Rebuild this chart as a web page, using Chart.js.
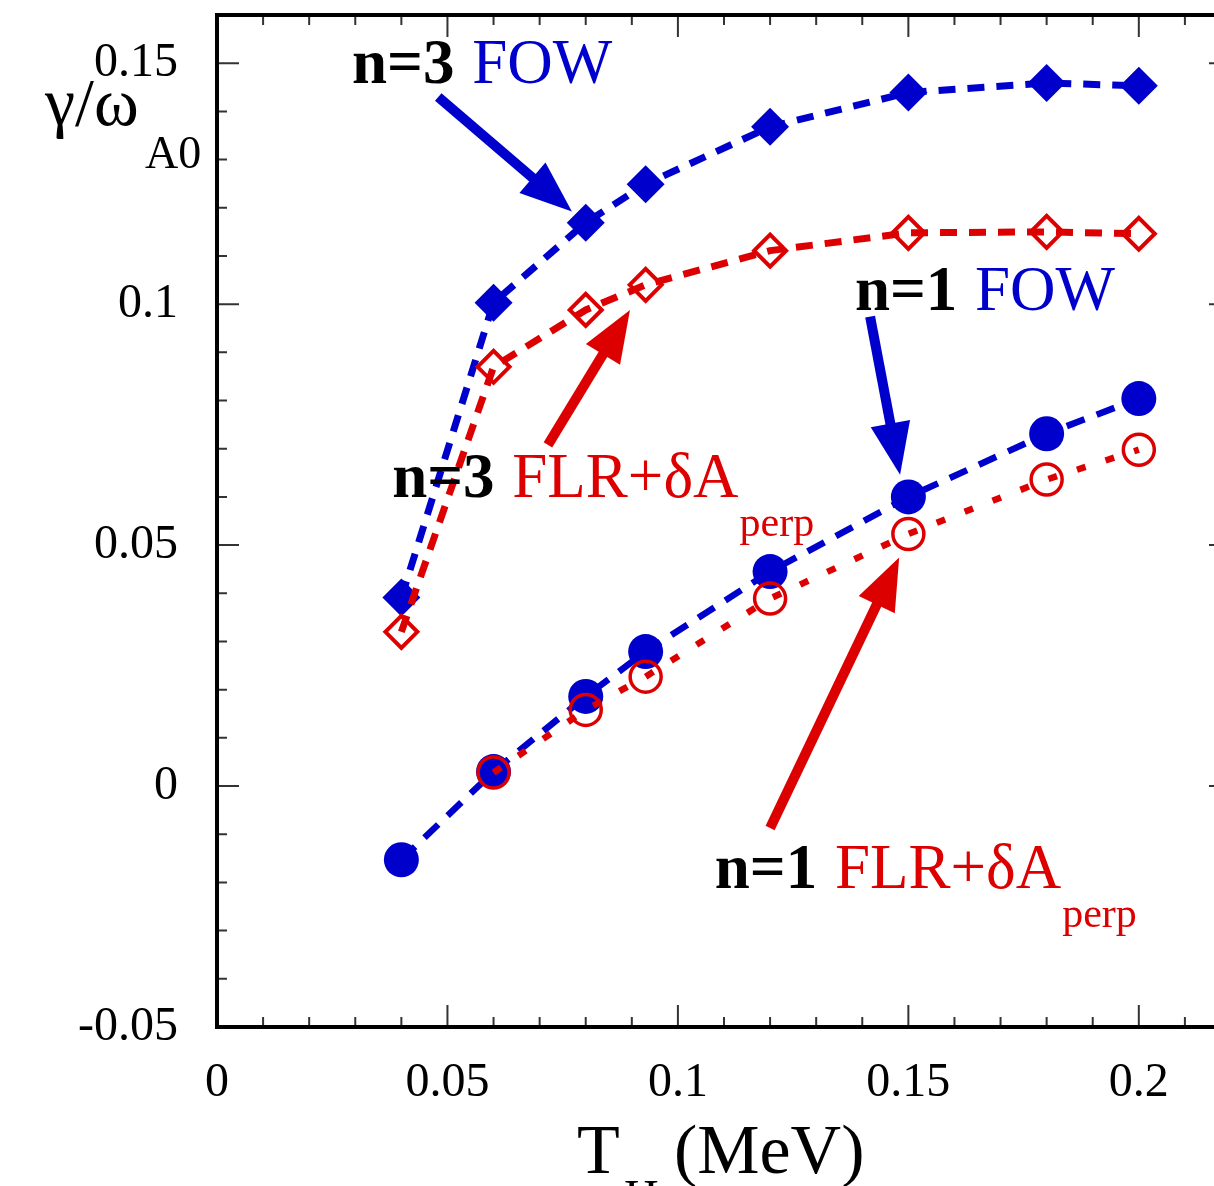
<!DOCTYPE html>
<html><head><meta charset="utf-8">
<style>
html,body{margin:0;padding:0;background:#fff;overflow:hidden;width:1214px;height:1186px}
#wrap{width:1240px;height:1186px;position:relative}
canvas{display:block}
</style>
<script src="https://cdn.jsdelivr.net/npm/chart.js@4.4.1/dist/chart.umd.min.js"></script>
</head><body><div id="wrap"><canvas id="c" width="1240" height="1186"></canvas></div>
<script>
const BLUE = '#0000cc', RED = '#dd0000';
const FONT = '"Liberation Serif", "Times New Roman", serif';

// ---- data ----
const xValues = [0.04, 0.06, 0.08, 0.093, 0.12, 0.15, 0.18, 0.2];
const n3FOW = [0.0391, 0.1003, 0.1169, 0.1249, 0.1368, 0.1439, 0.1459, 0.1453];
const n3FLR = [0.0320, 0.0870, 0.0988, 0.1040, 0.1111, 0.1148, 0.1150, 0.1146];
const n1FOW = [-0.0153, 0.0030, 0.0186, 0.0279, 0.0445, 0.0600, 0.0731, 0.0804];
const n1FLR = [null, 0.0028, 0.0158, 0.0227, 0.0389, 0.0523, 0.0636, 0.0698];

const xTickValues = [0, 0.05, 0.1, 0.15, 0.2];
const yTickValues = [-0.05, 0, 0.05, 0.1, 0.15];
const xMinorStep = 0.01, yMinorStep = 0.01;

// annotation labels (data coords of left/baseline) and arrows (data coords)
const labels = [
  {bold: 'n=3', text: 'FOW', color: BLUE, x: 0.0293, y: 0.1459},
  {bold: 'n=3', text: 'FLR+δA', sub: 'perp', color: RED, x: 0.0380, y: 0.0600},
  {bold: 'n=1', text: 'FOW', color: BLUE, x: 0.1384, y: 0.0988},
  {bold: 'n=1', text: 'FLR+δA', sub: 'perp', color: RED, x: 0.1080, y: -0.0211}
];
const arrows = [
  {color: BLUE, from: [0.0480, 0.1430], to: [0.0770, 0.1192]},
  {color: RED,  from: [0.0718, 0.0708], to: [0.0896, 0.0988]},
  {color: BLUE, from: [0.1417, 0.0974], to: [0.1482, 0.0646]},
  {color: RED,  from: [0.1200, -0.0087], to: [0.1480, 0.0474]}
];

function pts(ys) { return xValues.map((x, i) => ({x: x, y: ys[i]})); }

const decorPlugin = {
  id: 'decor',
  afterDatasetsDraw(chart) {
    const ctx = chart.ctx, xs = chart.scales.x, ys = chart.scales.y, a = chart.chartArea;
    ctx.save();
    // ticks (inward)
    ctx.strokeStyle = '#333'; ctx.lineWidth = 2;
    const isMajor = (v, arr) => arr.some(t => Math.abs(t - v) < 1e-9);
    for (let i = 0; i <= 22; i++) {
      const v = +(i * xMinorStep).toFixed(4);
      const px = xs.getPixelForValue(v);
      const L = isMajor(v, xTickValues) ? 22 : 10;
      ctx.beginPath();
      ctx.moveTo(px, a.bottom); ctx.lineTo(px, a.bottom - L);
      ctx.moveTo(px, a.top); ctx.lineTo(px, a.top + L);
      ctx.stroke();
    }
    for (let i = -5; i <= 16; i++) {
      const v = +(i * yMinorStep).toFixed(4);
      const py = ys.getPixelForValue(v);
      const L = isMajor(v, yTickValues) ? 22 : 10;
      ctx.beginPath();
      ctx.moveTo(a.left, py); ctx.lineTo(a.left + L, py);
      ctx.moveTo(a.right, py); ctx.lineTo(a.right - L, py);
      ctx.stroke();
    }
    // frame
    ctx.strokeStyle = '#000'; ctx.lineWidth = 4;
    ctx.strokeRect(a.left, a.top, a.right - a.left, a.bottom - a.top);

    // arrows
    arrows.forEach(ar => {
      const x0 = xs.getPixelForValue(ar.from[0]), y0 = ys.getPixelForValue(ar.from[1]);
      const x1 = xs.getPixelForValue(ar.to[0]), y1 = ys.getPixelForValue(ar.to[1]);
      const dx = x1 - x0, dy = y1 - y0, len = Math.hypot(dx, dy);
      const ux = dx / len, uy = dy / len;
      const headLen = 52, halfW = 20;
      const bx = x1 - ux * headLen, by = y1 - uy * headLen;
      ctx.strokeStyle = ar.color; ctx.fillStyle = ar.color;
      ctx.lineWidth = 10; ctx.lineCap = 'butt';
      ctx.beginPath(); ctx.moveTo(x0, y0); ctx.lineTo(bx + ux * 2, by + uy * 2); ctx.stroke();
      ctx.beginPath();
      ctx.moveTo(x1, y1);
      ctx.lineTo(bx - uy * halfW, by + ux * halfW);
      ctx.lineTo(bx + uy * halfW, by - ux * halfW);
      ctx.closePath(); ctx.fill();
    });

    // labels
    ctx.textBaseline = 'alphabetic'; ctx.textAlign = 'left';
    labels.forEach(lb => {
      const px = xs.getPixelForValue(lb.x), py = ys.getPixelForValue(lb.y);
      ctx.font = 'bold 63px ' + FONT; ctx.fillStyle = '#000';
      ctx.fillText(lb.bold, px, py);
      const w1 = ctx.measureText(lb.bold + ' ').width;
      ctx.font = '63px ' + FONT; ctx.fillStyle = lb.color;
      const tx = px + w1 + 2;
      ctx.fillText(lb.text, tx, py);
      if (lb.sub) {
        const w2 = ctx.measureText(lb.text).width;
        ctx.font = '42px ' + FONT;
        ctx.fillText(lb.sub, tx + w2 + 1, py + 39);
      }
    });

    // axis titles
    ctx.fillStyle = '#000';
    ctx.font = '68px ' + FONT;
    ctx.fillText('γ/ω', 45, 125);
    ctx.font = '46px ' + FONT;
    ctx.fillText('A0', 145, 168);
    ctx.font = '70px ' + FONT;
    ctx.fillText('T', 577, 1173);
    ctx.fillText('(MeV)', 674, 1173);
    ctx.font = '48px ' + FONT;
    ctx.fillText('H', 624, 1213);
    ctx.restore();
  }
};

const common = {tension: 0, spanGaps: false, fill: false};

new Chart(document.getElementById('c'), {
  type: 'line',
  data: {
    datasets: [
      Object.assign({}, common, {
        label: 'n=1 FLR', data: pts(n1FLR), order: 0,
        borderColor: RED, borderWidth: 6.5, borderDash: [9, 21],
        pointStyle: 'circle', pointRadius: 15.5, pointBorderWidth: 3.5,
        pointBorderColor: RED, pointBackgroundColor: 'rgba(0,0,0,0)'
      }),
      Object.assign({}, common, {
        label: 'n=3 FLR', data: pts(n3FLR), order: 1,
        borderColor: RED, borderWidth: 7, borderDash: [17, 12],
        pointStyle: 'rectRot', pointRadius: 16, pointBorderWidth: 4,
        pointBorderColor: RED, pointBackgroundColor: 'rgba(0,0,0,0)'
      }),
      Object.assign({}, common, {
        label: 'n=1 FOW', data: pts(n1FOW), order: 2,
        borderColor: BLUE, borderWidth: 6.5, borderDash: [19, 13],
        pointStyle: 'circle', pointRadius: 17.5, pointBorderWidth: 0,
        pointBorderColor: BLUE, pointBackgroundColor: BLUE
      }),
      Object.assign({}, common, {
        label: 'n=3 FOW', data: pts(n3FOW), order: 3,
        borderColor: BLUE, borderWidth: 7, borderDash: [17, 12],
        pointStyle: 'rectRot', pointRadius: 19, pointBorderWidth: 0,
        pointBorderColor: BLUE, pointBackgroundColor: BLUE
      })
    ]
  },
  options: {
    responsive: false,
    devicePixelRatio: 1,
    animation: false,
    events: [],
    layout: {autoPadding: false, padding: {top: 15, right: 9, left: 0, bottom: 0}},
    plugins: {legend: {display: false}, tooltip: {enabled: false}},
    scales: {
      x: {
        type: 'linear', min: 0, max: 0.22,
        grid: {display: false, drawTicks: false},
        border: {display: false},
        afterBuildTicks: s => { s.ticks = xTickValues.map(v => ({value: v})); },
        afterFit: s => { s.height = 159; s.paddingLeft = 0; s.paddingRight = 0; s.paddingTop = 0; s.paddingBottom = 0; },
        ticks: {
          autoSkip: false, maxRotation: 0, padding: 28, color: '#000',
          font: {family: FONT, size: 48},
          callback: v => String(v)
        }
      },
      y: {
        type: 'linear', min: -0.05, max: 0.16,
        grid: {display: false, drawTicks: false},
        border: {display: false},
        afterBuildTicks: s => { s.ticks = yTickValues.map(v => ({value: v})); },
        afterFit: s => { s.width = 217; s.paddingLeft = 0; s.paddingRight = 0; s.paddingTop = 0; s.paddingBottom = 0; },
        ticks: {
          autoSkip: false, padding: 39, color: '#000',
          font: {family: FONT, size: 48},
          callback: v => String(v)
        }
      }
    }
  },
  plugins: [decorPlugin]
});
</script>
</body></html>
